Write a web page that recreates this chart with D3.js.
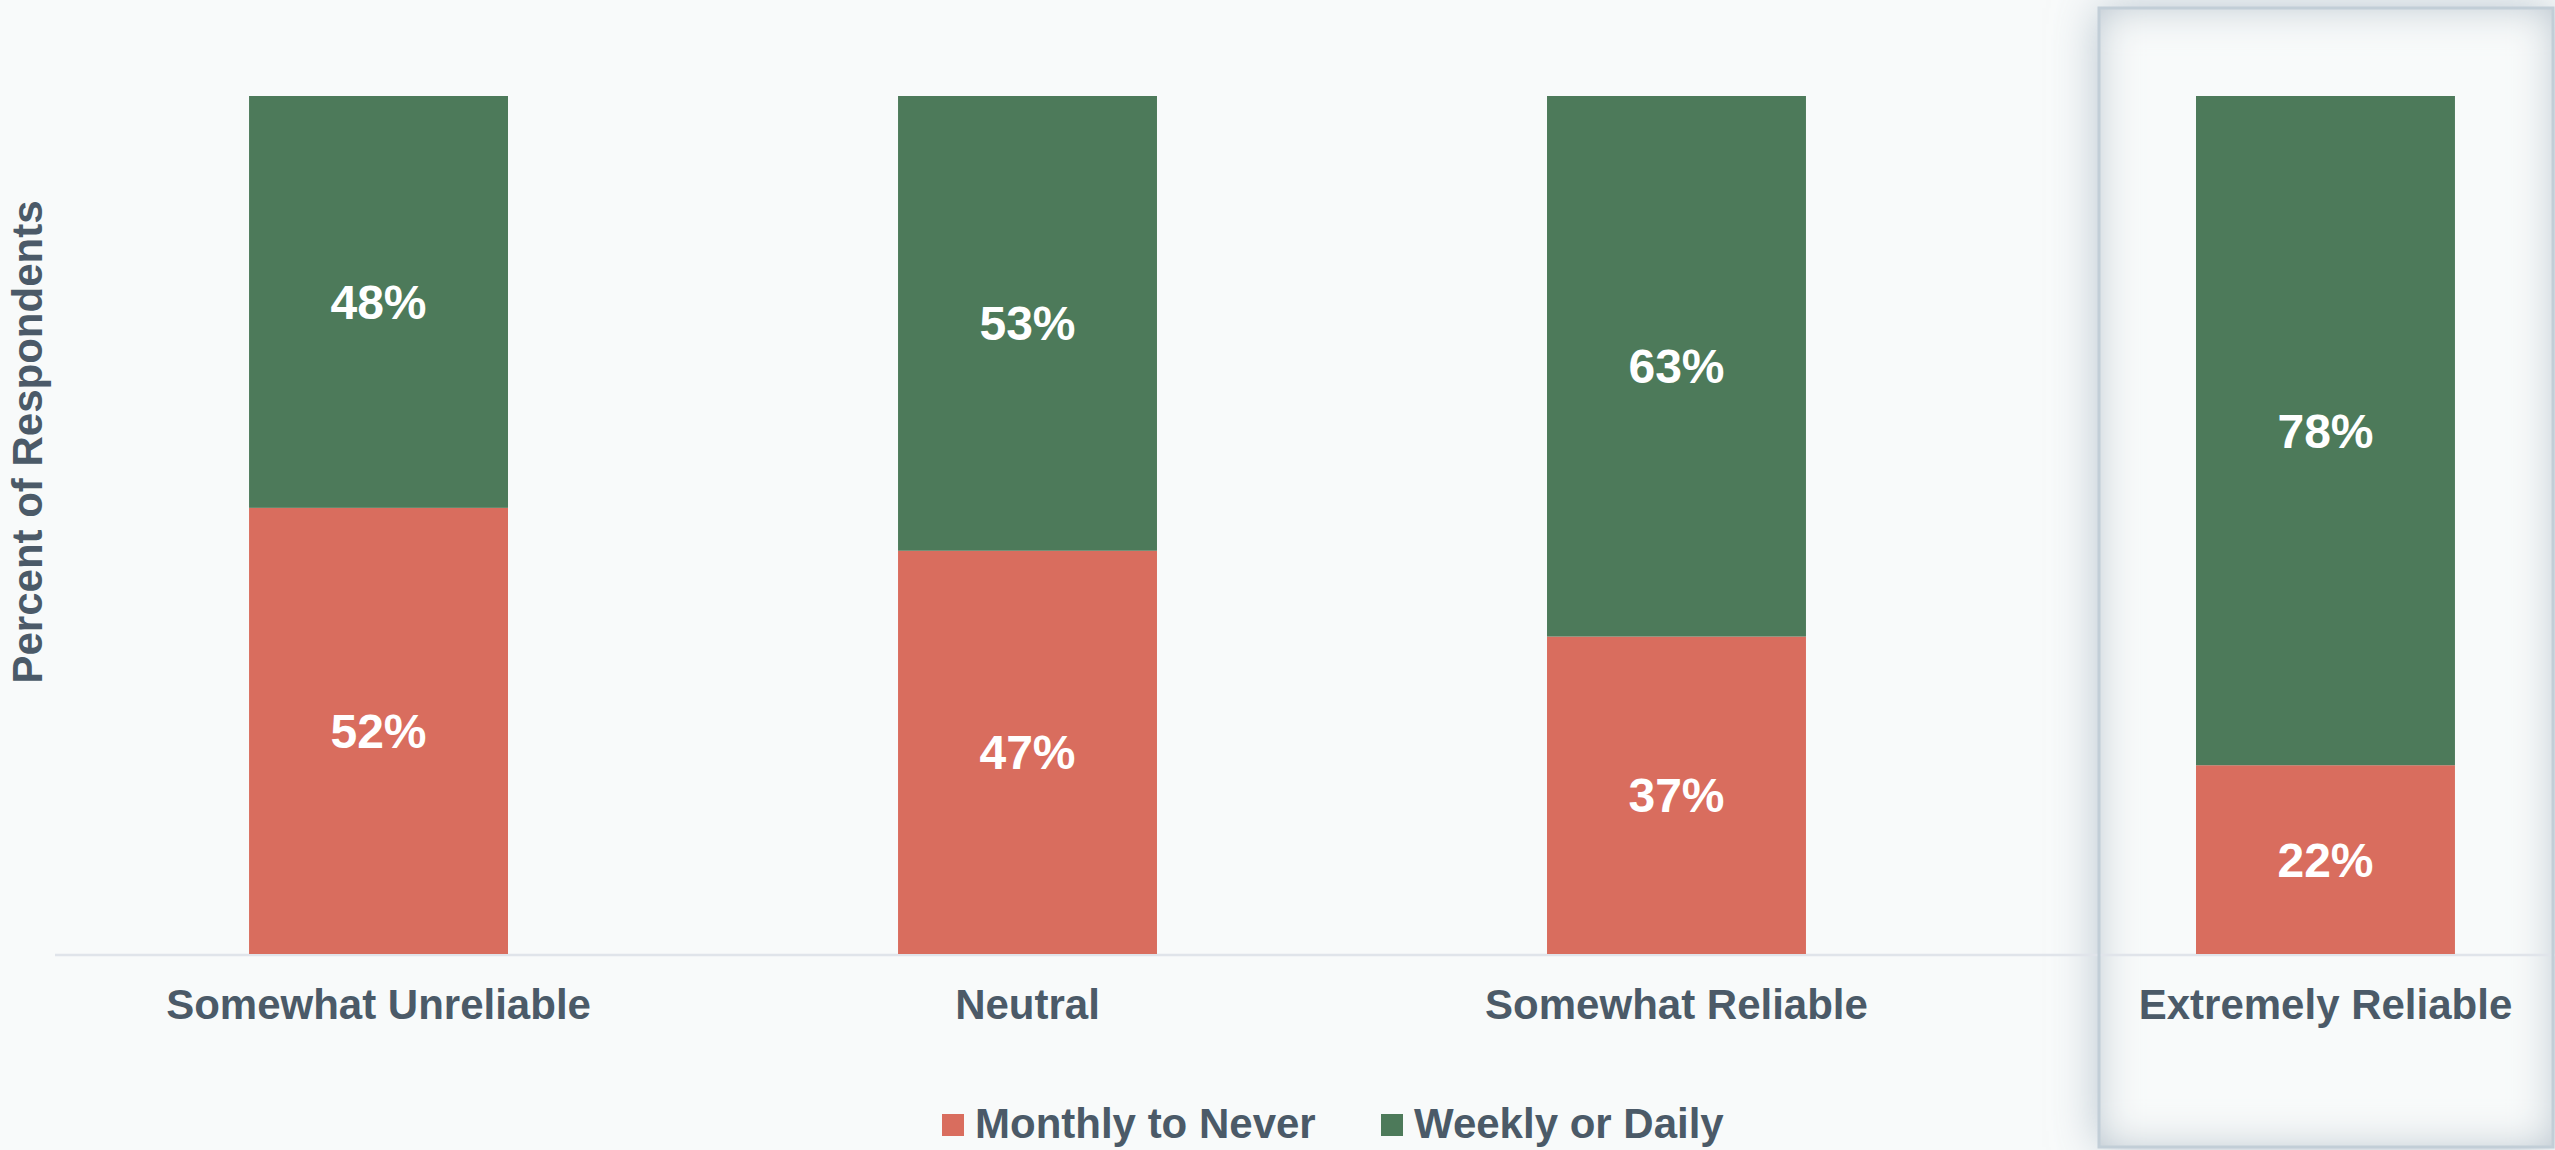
<!DOCTYPE html>
<html>
<head>
<meta charset="utf-8">
<script src="https://cdn.jsdelivr.net/npm/d3@7"></script>
<style>
  html, body { margin: 0; padding: 0; background: #f8fafa; }
  svg { display: block; }
  text { font-family: "Liberation Sans", Arial, Helvetica, sans-serif; font-weight: bold; }
</style>
</head>
<body>
<svg id="chart" width="2555" height="1150"></svg>
<script>
const categories = ["Somewhat Unreliable", "Neutral", "Somewhat Reliable", "Extremely Reliable"];
const seriesNames = ["Monthly to Never", "Weekly or Daily"];
const monthlyToNever = [52, 47, 37, 22];
const weeklyOrDaily = [48, 53, 63, 78];
const highlighted = "Extremely Reliable";
const yAxisTitle = "Percent of Respondents";

const colors = { "Monthly to Never": "#d96d5e", "Weekly or Daily": "#4d7a5a" };
const textColor = "#4b5a68";

const W = 2555, H = 1150;
const svg = d3.select("#chart");
svg.append("rect").attr("width", W).attr("height", H).attr("fill", "#f8fafa");

const defs = svg.append("defs");
// outer glow
const fo = defs.append("filter").attr("id", "outerGlow")
  .attr("x", "-40%").attr("y", "-10%").attr("width", "180%").attr("height", "120%");
fo.append("feGaussianBlur").attr("in", "SourceAlpha").attr("stdDeviation", 24).attr("result", "b");
fo.append("feFlood").attr("flood-color", "#9fb0be").attr("flood-opacity", 0.75);
fo.append("feComposite").attr("in2", "b").attr("operator", "in");
// inner shadow
const fi = defs.append("filter").attr("id", "innerShadow")
  .attr("x", "-10%").attr("y", "-10%").attr("width", "120%").attr("height", "120%");
fi.append("feFlood").attr("flood-color", "#aab9c5").attr("flood-opacity", 0.85).attr("result", "f");
fi.append("feComposite").attr("in", "f").attr("in2", "SourceAlpha").attr("operator", "out").attr("result", "o");
fi.append("feGaussianBlur").attr("in", "o").attr("stdDeviation", 20).attr("result", "ob");
fi.append("feComposite").attr("in", "ob").attr("in2", "SourceAlpha").attr("operator", "in").attr("result", "s");
const fm = fi.append("feMerge");
fm.append("feMergeNode").attr("in", "SourceGraphic");
fm.append("feMergeNode").attr("in", "s");

const x = d3.scaleBand().domain(categories)
  .range([55, 2649]).paddingInner(0.601).paddingOuter(0.299).align(0.5);
const y = d3.scaleLinear().domain([0, 100]).range([954, 96]);

// highlight box
const hb = { x0: 2099, x1: 2553, y0: 8, y1: 1147 };
svg.append("rect")
  .attr("x", hb.x0).attr("y", hb.y0).attr("width", hb.x1 - hb.x0).attr("height", hb.y1 - hb.y0)
  .attr("fill", "#000").attr("filter", "url(#outerGlow)");
svg.append("rect")
  .attr("x", hb.x0).attr("y", hb.y0).attr("width", hb.x1 - hb.x0).attr("height", hb.y1 - hb.y0)
  .attr("fill", "#f8fafa").attr("filter", "url(#innerShadow)");

// baseline
svg.append("line").attr("x1", 55).attr("x2", W).attr("y1", y(0) + 1).attr("y2", y(0) + 1)
  .attr("stroke", "#e0e4ea").attr("stroke-width", 2.5);

// stacked data
const rows = categories.map((c, i) => ({ cat: c, "Monthly to Never": monthlyToNever[i], "Weekly or Daily": weeklyOrDaily[i] }));
const stack = d3.stack().keys(seriesNames)(rows);

const g = svg.append("g");
stack.forEach(layer => {
  g.selectAll(null).data(layer).enter().append("rect")
    .attr("x", d => x(d.data.cat))
    .attr("width", x.bandwidth())
    .attr("y", d => y(d[1]))
    .attr("height", d => y(d[0]) - y(d[1]))
    .attr("fill", colors[layer.key]);
  g.selectAll(null).data(layer).enter().append("text")
    .attr("x", d => x(d.data.cat) + x.bandwidth() / 2)
    .attr("y", d => (y(d[0]) + y(d[1])) / 2 + 17)
    .attr("text-anchor", "middle")
    .attr("font-size", 48)
    .attr("fill", "#ffffff")
    .text(d => (d[1] - d[0]) + "%");
});

// box border on top
svg.append("rect")
  .attr("x", hb.x0).attr("y", hb.y0).attr("width", hb.x1 - hb.x0).attr("height", hb.y1 - hb.y0)
  .attr("fill", "none").attr("stroke", "#c2ced7").attr("stroke-width", 3);

// x axis labels
const xAxis = d3.axisBottom(x).tickSize(0).tickPadding(0);
const ax = svg.append("g").attr("transform", "translate(0,1019)").call(xAxis);
ax.select(".domain").remove();
ax.selectAll("text")
  .attr("dy", 0).attr("y", 0)
  .attr("font-size", 42).attr("fill", textColor)
  .attr("font-family", "'Liberation Sans', Arial, sans-serif").attr("font-weight", "bold");

// y axis title
svg.append("text")
  .attr("transform", "translate(42,442) rotate(-90)")
  .attr("text-anchor", "middle")
  .attr("font-size", 42).attr("fill", textColor)
  .text(yAxisTitle);

// legend
const legendX = [942, 1381];
const lg = svg.append("g");
seriesNames.forEach((s, i) => {
  lg.append("rect").attr("x", legendX[i]).attr("y", 1114).attr("width", 22).attr("height", 22)
    .attr("fill", colors[s]);
  lg.append("text").attr("x", legendX[i] + 33).attr("y", 1138)
    .attr("font-size", 42).attr("fill", textColor).text(s);
});
</script>
</body>
</html>
